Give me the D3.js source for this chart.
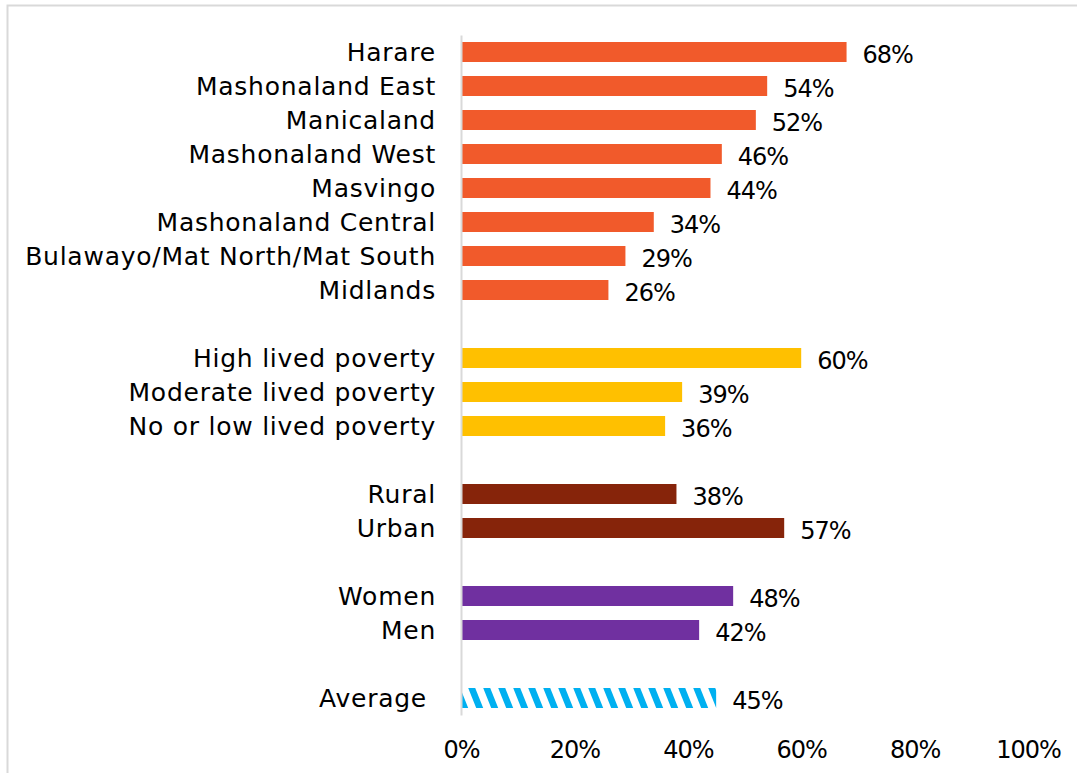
<!DOCTYPE html>
<html>
<head>
<meta charset="utf-8">
<script src="https://cdn.jsdelivr.net/npm/d3@7"></script>
<style>
  body { margin: 0; background: #fff; }
  text { font-family: "Century Gothic", "DejaVu Sans", sans-serif; fill: #000; }
</style>
</head>
<body>
<div id="chart"></div>
<script>
// data
var regions = ["Harare", "Mashonaland East", "Manicaland", "Mashonaland West", "Masvingo",
  "Mashonaland Central", "Bulawayo/Mat North/Mat South", "Midlands"]
var regionValues = [0.68, 0.54, 0.52, 0.46, 0.44, 0.34, 0.29, 0.26]

var poverty = ["High lived poverty", "Moderate lived poverty", "No or low lived poverty"]
var povertyValues = [0.60, 0.39, 0.36]

var settlement = ["Rural", "Urban"]
var settlementValues = [0.38, 0.57]

var gender = ["Women", "Men"]
var genderValues = [0.48, 0.42]

var average = ["Average"]
var averageValues = [0.45]

var xTicks = [0, 0.2, 0.4, 0.6, 0.8, 1]

var width = 1077, height = 773
var fontSize = 24, labelSize = 25

// build rows, with an empty slot between groups
var groups = [
  { labels: regions, values: regionValues, color: "#F15A2B" },
  { labels: poverty, values: povertyValues, color: "#FFC000" },
  { labels: settlement, values: settlementValues, color: "#86240A" },
  { labels: gender, values: genderValues, color: "#7030A0" },
  { labels: average, values: averageValues, color: "url(#stripes)" }
]
var rows = []
groups.forEach(function(g, gi) {
  if (gi > 0) rows.push({ key: "gap" + gi, label: "", value: null })
  g.labels.forEach(function(l, i) {
    rows.push({ key: l, label: l, value: g.values[i], color: g.color })
  })
})

var svg = d3.select("#chart")
  .append("svg")
  .attr("width", width)
  .attr("height", height)

// stripe pattern for the average bar
var pattern = svg.append("defs")
  .append("pattern")
  .attr("id", "stripes")
  .attr("patternUnits", "userSpaceOnUse")
  .attr("width", 15)
  .attr("height", 40)
pattern.append("rect")
  .attr("width", 15).attr("height", 40).attr("fill", "#fff")
pattern.selectAll("polygon")
  .data([-15, 0, 15])
  .enter()
  .append("polygon")
  .attr("points", d => `${d},0 ${d + 7},0 ${d + 23},40 ${d + 16},40`)
  .attr("fill", "#00B0F0")

// chart frame
svg.append("rect")
  .attr("x", 7.5)
  .attr("y", 5.5)
  .attr("width", 1100)
  .attr("height", 800)
  .attr("fill", "#fff")
  .attr("stroke", "#d9d9d9")
  .attr("stroke-width", 2)

var xScale = d3.scaleLinear()
  .domain([0, 1])
  .range([461, 1028])

var yScale = d3.scaleBand()
  .domain(rows.map(d => d.key))
  .range([35, 715])
  .paddingInner(14 / 34)
  .paddingOuter(7 / 34)

// bars
svg.append("g")
  .selectAll("rect")
  .data(rows.filter(d => d.value !== null))
  .enter()
  .append("rect")
  .attr("x", xScale(0))
  .attr("y", d => yScale(d.key))
  .attr("width", d => xScale(d.value) - xScale(0))
  .attr("height", yScale.bandwidth())
  .attr("fill", d => d.color)

// value labels
svg.append("g")
  .selectAll("text")
  .data(rows.filter(d => d.value !== null))
  .enter()
  .append("text")
  .attr("x", d => xScale(d.value) + 16)
  .attr("y", d => yScale(d.key) + yScale.bandwidth() / 2 + 2)
  .attr("dy", "0.36em")
  .style("font-size", fontSize + "px")
  .style("letter-spacing", "-1px")
  .text(d => d3.format(".0%")(d.value))

// Y axis
var yAxis = d3.axisLeft(yScale)
  .tickSize(0)
  .tickPadding(25)
  .tickFormat(k => rows.find(r => r.key === k).label)

var yG = svg.append("g")
  .attr("transform", `translate(${xScale(0)},0)`)
  .attr("font-family", null)
  .call(yAxis)
yG.select(".domain")
  .attr("stroke", "#d9d9d9")
  .attr("stroke-width", 2)
yG.selectAll(".tick text")
  .style("font-size", labelSize + "px")
  .style("letter-spacing", "0.75px")
  .attr("x", k => k === "Average" ? -34 : -25)
  .attr("dy", "0.36em")

// X axis
var xAxis = d3.axisBottom(xScale)
  .tickValues(xTicks)
  .tickSize(0)
  .tickPadding(0)
  .tickFormat(d3.format(".0%"))

var xG = svg.append("g")
  .attr("transform", "translate(0,738)")
  .call(xAxis)
xG.attr("font-family", null)
xG.select(".domain").remove()
xG.selectAll(".tick text")
  .style("font-size", fontSize + "px")
  .style("letter-spacing", "-1px")
  .attr("y", 0)
  .attr("dy", "0.85em")
</script>
</body>
</html>
